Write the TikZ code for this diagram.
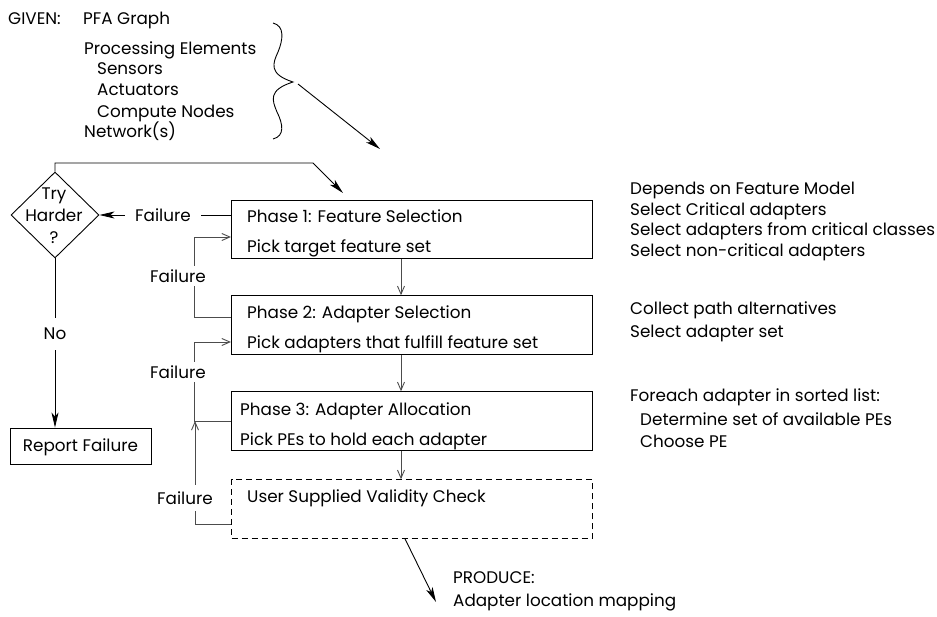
\documentclass[tikz,border=0pt]{standalone}
\usepackage{fontspec}
\setmainfont{Poppins}
\usetikzlibrary{arrows.meta,shapes.geometric}
\newcommand\dgfont{\fontsize{16.8}{20}\selectfont}
\begin{document}
\begin{tikzpicture}[x=1pt,y=-1pt,
  txt/.style={anchor=base west,inner sep=0pt,font=\dgfont},
  ctxt/.style={inner sep=0pt,font=\dgfont},
  lbl/.style={font=\dgfont,fill=white,inner xsep=8pt,inner ysep=4pt},
  flowbox/.style={draw,line width=1.1pt,minimum width=361pt,minimum height=58.5pt,inner sep=0pt},
  conn/.style={line width=0.9pt,draw=black!70},
  openarrow/.style={conn,-{Straight Barb[length=8pt,width=7pt]}},
  fillarrow/.style={line width=0.9pt,-{Stealth[length=15pt,width=7pt,inset=4pt]}}]
\useasboundingbox (0,0) rectangle (937,617);

% inputs
\node[txt] (given) at (8,25) {GIVEN:};
\node[txt] (pfa) at (83,25) {PFA Graph};
\node[txt] (pe) at (84,55) {Processing Elements};
\node[txt] (sens) at (97,75) {Sensors};
\node[txt] (act) at (97,96) {Actuators};
\node[txt] (comp) at (97,118) {Compute Nodes};
\node[txt] (net) at (84,138) {Network(s)};

% curly brace gathering the inputs
\draw[line width=0.9pt] (273,23) .. controls (285,26) and (283,40) .. (278,52)
  .. controls (273,63) and (268,74) .. (293,82)
  .. controls (268,90) and (272,100) .. (277,112)
  .. controls (283,124) and (285,136) .. (273,139);
\coordinate (bracetip) at (298,84);
\coordinate (intoflow) at (380,149);
\draw[fillarrow] (bracetip) -- (intoflow);

% phase boxes
\node[flowbox] (b1) at (412,229.5) {};
\node[flowbox] (b2) at (412,325) {};
\node[flowbox] (b3) at (412,421) {};
\node[flowbox,dash pattern=on 6pt off 4pt] (b4) at (412,509) {};

\node[txt] (b1a) at (247,223) {Phase 1: Feature Selection};
\node[txt] (b1b) at (247,253) {Pick target feature set};
\node[txt] (b2a) at (247,319) {Phase 2: Adapter Selection};
\node[txt] (b2b) at (247,349) {Pick adapters that fulfill feature set};
\node[txt] (b3a) at (240,415) {Phase 3: Adapter Allocation};
\node[txt] (b3b) at (240,445) {Pick PEs to hold each adapter};
\node[txt] (b4a) at (247,502) {User Supplied Validity Check};

% decision and failure report
\node[draw,diamond,line width=0.9pt,minimum width=88pt,minimum height=86pt,inner sep=0pt] (dia) at (55,215) {};
\node[ctxt,align=center,font=\fontsize{16.8}{22}\selectfont] (diatxt) at (54,216) {Try\\Harder\\?};
\node[draw,line width=0.9pt,minimum width=141pt,minimum height=36pt,inner sep=0pt] (rep) at (80.5,446) {};
\node[ctxt] (reptxt) at (80.5,447) {Report Failure};

% forward flow
\draw[openarrow] (b1.south -| 401,0) -- (b2.north -| 401,0);
\draw[openarrow] (b2.south -| 401,0) -- (b3.north -| 401,0);
\draw[openarrow] (b3.south -| 401,0) -- (b4.north -| 401,0);
\coordinate (prod) at (436,602);
\draw[fillarrow] (b4.south -| 405,0) -- (prod);
\node[txt] (prodA) at (453,583) {PRODUCE:};
\node[txt] (prodB) at (453,606) {Adapter location mapping};

% retry loop
\coordinate (topr) at (313,163);
\coordinate (topend) at (343,193);
\draw[fillarrow] (dia.north) -- (dia.north |- topr) -- (topr) -- (topend);
\draw[fillarrow] ([yshift=14.5pt]b1.west) -- (dia.east);
\node[lbl,inner xsep=10pt] (f0) at (163,215) {Failure};
\draw[fillarrow] (dia.south) -- (dia.south |- rep.north);
\node[lbl,inner ysep=10pt] (no) at (55,334) {No};

% failure feedback between phases
\draw[openarrow] ([yshift=8pt]b2.west) -- ++(-37,0) |- ([yshift=-7.5pt]b1.west);
\node[lbl] (f1) at (178,276) {Failure};
\draw[openarrow] (b3.west) -- ++(-37,0) |- ([yshift=-17pt]b2.west);
\node[lbl] (f2) at (178,372) {Failure};
\coordinate (b3corner) at (195,421);
\draw[openarrow] ([yshift=-15pt]b4.west) -| (b3corner);
\node[lbl,inner ysep=7pt] (f3) at (185,498) {Failure};

% notes
\node[txt] (n1) at (630,195) {Depends on Feature Model};
\node[txt] (n2) at (630,216) {Select Critical adapters};
\node[txt] (n3) at (630,236) {Select adapters from critical classes};
\node[txt] (n4) at (630,257) {Select non-critical adapters};
\node[txt] (n5) at (630,315) {Collect path alternatives};
\node[txt] (n6) at (630,338) {Select adapter set};
\node[txt] (n7) at (630,402) {Foreach adapter in sorted list:};
\node[txt] (n8) at (640,425) {Determine set of available PEs};
\node[txt] (n9) at (640,447) {Choose PE};
\end{tikzpicture}
\end{document}
